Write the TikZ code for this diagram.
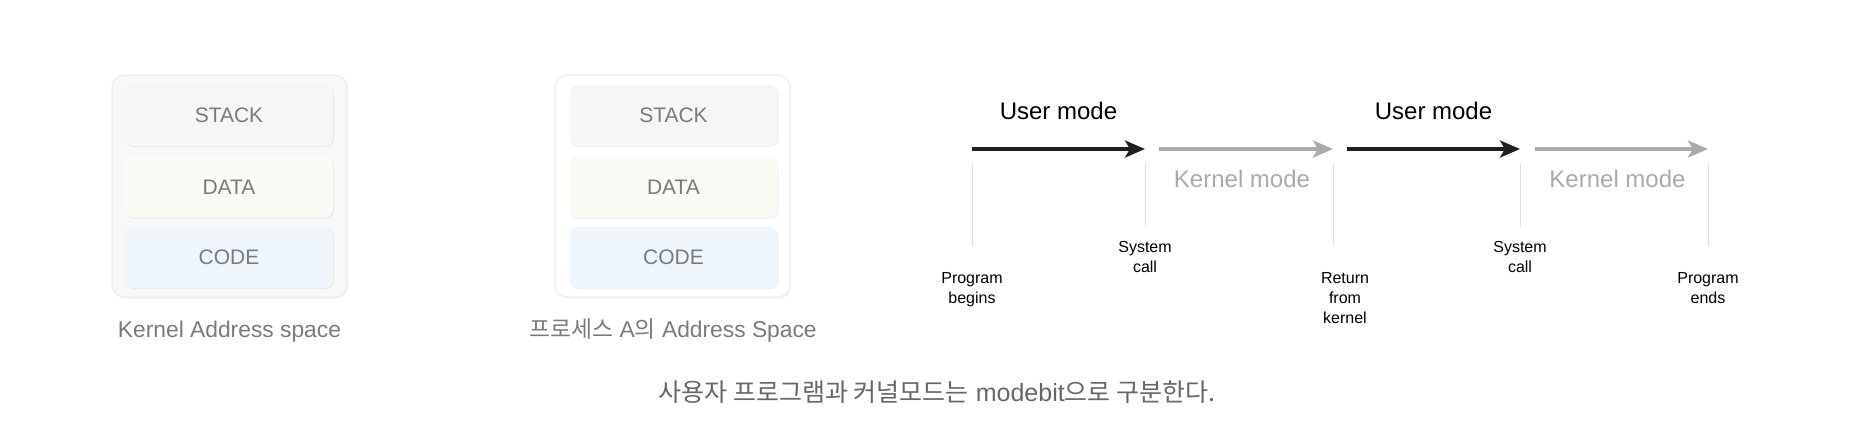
\documentclass[tikz,border=0pt]{standalone}
\usepackage{fontspec}
\setmainfont{Liberation Sans}
\newfontfamily\korfont{Noto Sans CJK KR}
\usetikzlibrary{arrows.meta,positioning,shadows}
\definecolor{labelgray}{HTML}{7A7A7A}
\definecolor{modegray}{HTML}{AAAAAA}
\definecolor{tickgray}{HTML}{E0E0E0}
\definecolor{outerfill}{HTML}{F8F8F8}
\definecolor{stackfill}{HTML}{F6F6F6}
\definecolor{datafill}{HTML}{FCFAF5}
\definecolor{codefill}{HTML}{EEF6FC}
\tikzset{
  addrbox/.style={fill=#1, draw=black!7, line width=0.6pt, rounded corners=6pt,
    minimum width=117.5pt, minimum height=111pt,
    drop shadow={opacity=0.1, shadow xshift=0.6pt, shadow yshift=-0.8pt}},
  segbox/.style={fill=#1, rounded corners=4pt, minimum width=104pt, minimum height=30.5pt,
    text=labelgray, font=\fontsize{10.5}{12}\selectfont,
    drop shadow={opacity=0.12, shadow xshift=0.5pt, shadow yshift=-0.6pt}},
  spacelabel/.style={anchor=base, text=labelgray, font=\fontsize{11.4}{13}\selectfont},
  usrarrow/.style={-{Stealth[length=10pt,width=8.5pt,inset=2.5pt]}, line width=1.8pt, color=black!88},
  krnarrow/.style={usrarrow, color=modegray},
  usrlabel/.style={inner sep=0pt, text=black, font=\fontsize{12}{14}\selectfont},
  krnlabel/.style={inner sep=0pt, text=modegray, font=\fontsize{12}{14}\selectfont},
  tickline/.style={draw=tickgray, line width=0.5pt},
  evlabel/.style={align=center, inner sep=0pt, font=\fontsize{8}{10}\selectfont},
}
\begin{document}
\begin{tikzpicture}[x=0.5pt,y=-0.5pt]
\useasboundingbox (0,0) rectangle (1858,446);
\node[addrbox=outerfill] (kbox) at (229.5,186) {};
\node[addrbox=white] (pbox) at (672.5,186) {};
\foreach \bx/\nm in {229/k,673.5/p}
  \foreach \sy/\seg/\col in {115.5/STACK/stackfill,187/DATA/datafill,257.5/CODE/codefill}
    \node[segbox=\col] (\nm-\seg) at (\bx,\sy) {\seg};
\node[spacelabel] (klabel) at (229.5,337) {Kernel Address space};
\node[spacelabel] (plabel) at (673,337) {{\korfont 프로세스} A{\korfont 의} Address Space};
\foreach \x/\y [count=\i from 0] in {972/246,1145/227,1333/246,1520/227,1708/246} {
  \coordinate (t\i) at (\x,149);
  \coordinate (b\i) at (\x,\y);
  \draw[tickline, shorten <=7pt] (t\i) -- (b\i);
}
\draw[usrarrow] (t0) -- (t1) node[midway, above=13.5pt, usrlabel] (u1) {User mode};
\draw[krnarrow] ([xshift=7pt]t1) -- (t2) node[midway, below=9.5pt, krnlabel, xshift=-2pt] (k1) {Kernel mode};
\draw[usrarrow] ([xshift=7pt]t2) -- (t3) node[midway, above=13.5pt, usrlabel] (u2) {User mode};
\draw[krnarrow] ([xshift=7.5pt]t3) -- (t4) node[midway, below=9.5pt, krnlabel, xshift=-2pt] (k2) {Kernel mode};
\node[evlabel, below=13pt of b0] (pbegin) {Program\\begins};
\node[evlabel, below=7pt of b1] (sys1) {System\\call};
\node[evlabel, below=13pt of b2, xshift=6pt] (ret) {Return\\from\\kernel};
\node[evlabel, below=7pt of b3] (sys2) {System\\call};
\node[evlabel, below=13pt of b4] (pend) {Program\\ends};
\node[spacelabel, text=black!60, font=\fontsize{12.5}{15}\selectfont] (caption) at (937,401)
  {{\korfont 사용자 프로그램과 커널모드는} modebit{\korfont 으로 구분한다.}};
\end{tikzpicture}
\end{document}
